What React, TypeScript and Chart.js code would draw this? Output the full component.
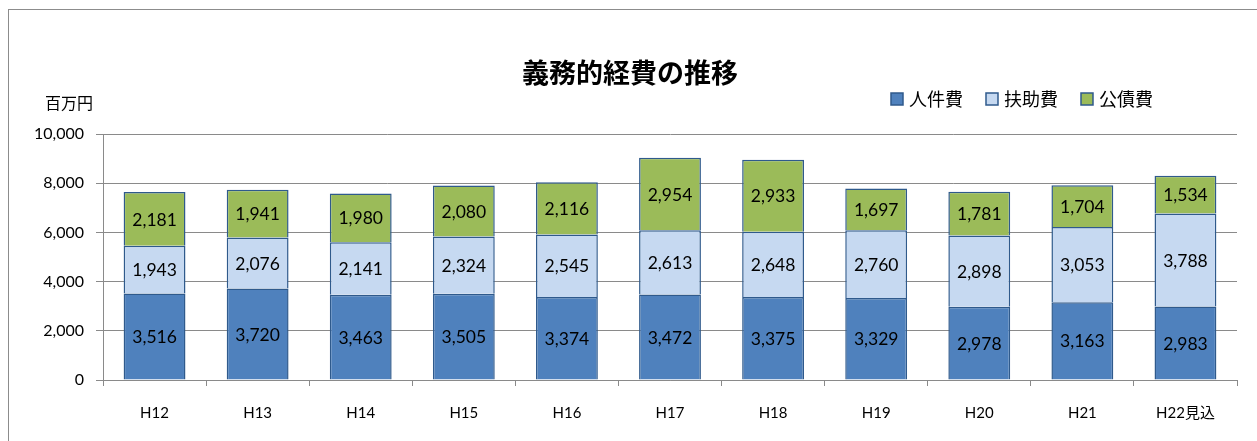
import React, { useEffect, useRef } from "react";
import { Chart, registerables } from "chart.js";

Chart.register(...registerables);

const categories = ["H12", "H13", "H14", "H15", "H16", "H17", "H18", "H19", "H20", "H21", "H22見込"];
const personnel = [3516, 3720, 3463, 3505, 3374, 3472, 3375, 3329, 2978, 3163, 2983];
const assistance = [1943, 2076, 2141, 2324, 2545, 2613, 2648, 2760, 2898, 3053, 3788];
const debt = [2181, 1941, 1980, 2080, 2116, 2954, 2933, 1697, 1781, 1704, 1534];
const seriesNames = ["人件費", "扶助費", "公債費"];
const seriesColors = ["#4F81BD", "#C6D9F1", "#9BBB59"];
const titleText = "義務的経費の推移";
const unitText = "百万円";
const yMax = 10000;
const yStep = 2000;

const FONT = "Lato, 'Noto Sans CJK JP', sans-serif";
const BORDER = "#2F5A8C";
const GRID = "#8A8A8A";

const labelPlugin = {
  id: "segmentLabels",
  afterDatasetsDraw(chart: any) {
    const ctx = chart.ctx;
    ctx.save();
    ctx.font = `17.5px ${FONT}`;
    ctx.fillStyle = "#000";
    ctx.textAlign = "center";
    ctx.textBaseline = "middle";
    chart.data.datasets.forEach((ds: any, i: number) => {
      const meta = chart.getDatasetMeta(i);
      meta.data.forEach((el: any, j: number) => {
        const v = ds.data[j];
        const cy = (el.y + el.base) / 2;
        ctx.fillText(Number(v).toLocaleString("en-US"), el.x, cy + 1);
      });
    });
    ctx.restore();
  },
};

const decorPlugin = {
  id: "decor",
  afterDraw(chart: any) {
    const ctx = chart.ctx;
    ctx.save();
    // title
    ctx.font = `bold 27px ${FONT}`;
    ctx.fillStyle = "#000";
    ctx.textAlign = "center";
    ctx.textBaseline = "middle";
    ctx.fillText(titleText, 621, 64);
    // unit
    ctx.font = `16px ${FONT}`;
    ctx.textAlign = "left";
    ctx.fillText(unitText, 36, 94);
    // legend
    ctx.font = `18px ${FONT}`;
    let x = 882;
    const y = 89;
    chart.data.datasets.forEach((ds: any) => {
      ctx.fillStyle = ds.backgroundColor;
      ctx.fillRect(x, y - 6, 12, 12);
      ctx.strokeStyle = BORDER;
      ctx.lineWidth = 1.5;
      ctx.strokeRect(x, y - 6, 12, 12);
      ctx.fillStyle = "#000";
      ctx.textAlign = "left";
      ctx.fillText(ds.label, x + 18, y + 1);
      const w = ctx.measureText(ds.label).width;
      x += 18 + w + 23;
    });
    ctx.restore();
  },
};

export default function App() {
  const ref = useRef<HTMLCanvasElement | null>(null);
  useEffect(() => {
    if (!ref.current) return;
    const datasets = [personnel, assistance, debt].map((d, i) => ({
      label: seriesNames[i],
      data: d,
      backgroundColor: seriesColors[i],
      borderColor: BORDER,
      borderWidth: 1.5,
      barPercentage: 0.6,
      categoryPercentage: 1,
    }));
    const chart = new Chart(ref.current, {
      type: "bar",
      data: { labels: categories, datasets },
      options: {
        animation: false,
        responsive: true,
        maintainAspectRatio: false,
        layout: { padding: { left: 0, right: 20, top: 124, bottom: 0 } },
        plugins: {
          legend: { display: false },
          title: { display: false },
          tooltip: { enabled: false },
        },
        scales: {
          x: {
            stacked: true,
            afterFit: (s: any) => { s.height = 61; },
            grid: { drawOnChartArea: false, drawTicks: true, tickLength: 6, color: GRID, offset: true },
            border: { display: true, color: GRID, width: 1 },
            ticks: { font: { family: FONT, size: 15 }, color: "#000", padding: 18, maxRotation: 0 },
          },
          y: {
            stacked: true,
            min: 0,
            max: yMax,
            afterFit: (s: any) => { s.width = 94; },
            grid: { color: GRID, tickLength: 7, lineWidth: 1 },
            border: { display: true, color: GRID, width: 1 },
            ticks: {
              stepSize: yStep,
              font: { family: FONT, size: 16 },
              color: "#000",
              padding: 12,
              callback: (v: any) => Number(v).toLocaleString("en-US"),
            },
          },
        },
      },
      plugins: [labelPlugin, decorPlugin],
    });
    return () => chart.destroy();
  }, []);

  return (
    <div
      style={{
        position: "absolute",
        left: 8,
        top: 9,
        width: 1248,
        height: 431,
        borderTop: "1px solid #8C8C8C",
        borderLeft: "1px solid #8C8C8C",
        background: "#fff",
      }}
    >
      <div style={{ position: "relative", width: 1248, height: 431 }}>
        <canvas ref={ref} />
      </div>
    </div>
  );
}
